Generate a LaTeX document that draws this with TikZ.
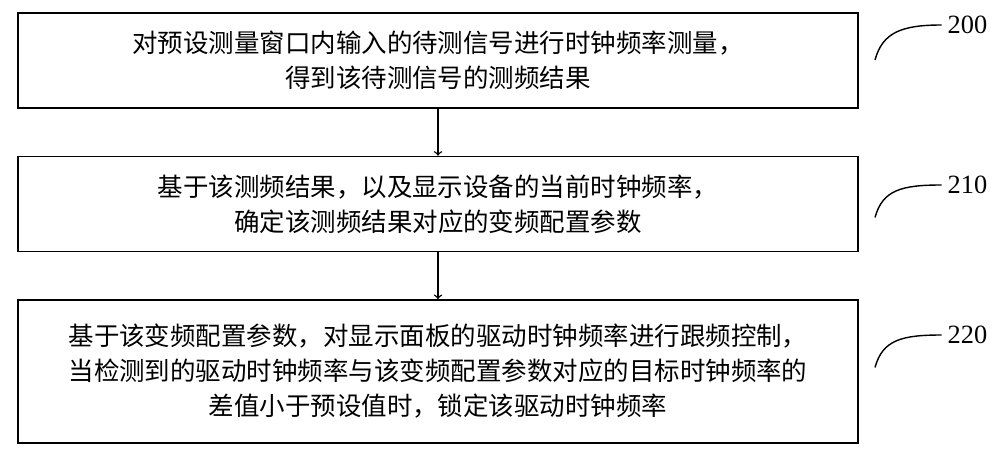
\documentclass[tikz,border=0pt]{standalone}
\usepackage{fontspec}
\setmainfont{Liberation Serif}
\newfontfamily\cjk{Noto Sans CJK SC}
\usetikzlibrary{positioning,calc}
\tikzset{
  stepbox/.style={rectangle, draw=black, thick, text width=16.8cm, align=center, font=\cjk\fontsize{14.5}{20}\selectfont, inner sep=0pt},
  steplabel/.style={font=\fontsize{15}{18}\selectfont},
  leader/.style={draw=black, thick}
}
\begin{document}
\begin{tikzpicture}[node distance=0.94cm]
    \useasboundingbox (0,0) rectangle (20,9);
    % Step 200
    \node [stepbox, minimum height=1.9cm] (s200) at (8.76,7.79) {
        对预设测量窗口内输入的待测信号进行时钟频率测量，\\
        得到该待测信号的测频结果
    };
    % Step 210
    \node [stepbox, minimum height=1.9cm, below=of s200] (s210) {
        基于该测频结果，以及显示设备的当前时钟频率，\\
        确定该测频结果对应的变频配置参数
    };
    % Step 220
    \node [stepbox, minimum height=2.86cm, below=of s210] (s220) {
        基于该变频配置参数，对显示面板的驱动时钟频率进行跟频控制，\\
        当检测到的驱动时钟频率与该变频配置参数对应的目标时钟频率的\\
        差值小于预设值时，锁定该驱动时钟频率
    };
    % Labels
    \node [steplabel] (l200) at (19.35,8.5) {200};
    \node [steplabel] (l210) at (19.35,5.3) {210};
    \node [steplabel] (l220) at (19.35,2.3) {220};
    \coordinate (c200) at (17.5,7.8);
    \coordinate (c210) at (17.5,4.65);
    \coordinate (c220) at (17.5,1.65);
    % Arrows
    \draw [->, thick] (s200) -- (s210);
    \draw [->, thick] (s210) -- (s220);
    % Leaders
    \foreach \n in {200,210,220}
        \draw [leader] (c\n) .. controls ($(c\n)+(0.15,0.55)$) and ($(l\n.west)+(-0.8,0)$) .. (l\n.west);
\end{tikzpicture}
\end{document}
